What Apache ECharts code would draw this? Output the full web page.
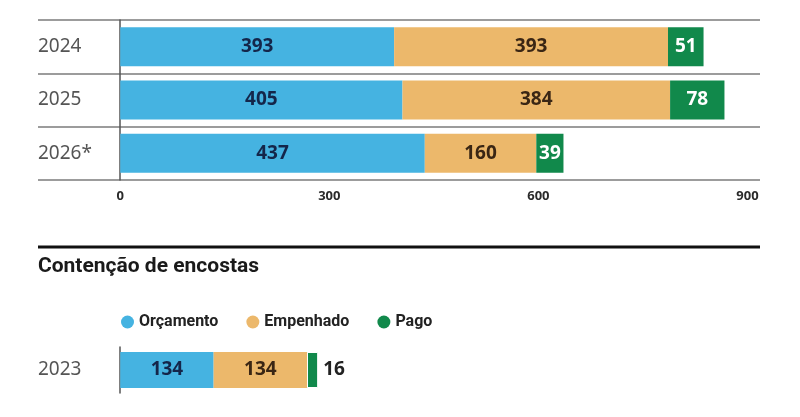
<!DOCTYPE html>
<html lang="pt">
<head>
    <meta charset="UTF-8"/>
    <title>Contenção de encostas</title>
    <script src="https://cdn.jsdelivr.net/npm/echarts@6/dist/echarts.min.js"></script>
    <style>
        html, body { margin: 0; padding: 0; background: #fff; }
    </style>
</head>
<body>
<div id="main" style="width: 800px;height:417px;"></div>
<script type="text/javascript">
    // dados do gráfico de cima (continuação)
    var anos = ['2024', '2025', '2026*'];
    var orcamento = [393, 405, 437];
    var empenhado = [393, 384, 160];
    var pago = [51, 78, 39];

    // contenção de encostas
    var anosEncostas = ['2023'];
    var orcEncostas = [134];
    var empEncostas = [134];
    var pagoEncostas = [16];

    var ticks = [0, 300, 600, 900];

    var AZUL = '#45b3e1';
    var LARANJA = '#ecb86b';
    var VERDE = '#11894b';
    var FONTE = '"Open Sans", sans-serif';

    var myChart = echarts.init(document.getElementById('main'));

    function eixoX(idx, mostrar) {
        return {
            type: 'value',
            gridIndex: idx,
            min: -118,
            max: 918,
            axisLine: { show: false },
            axisTick: { show: false },
            splitLine: { show: false },
            axisLabel: {
                show: mostrar,
                customValues: ticks,
                margin: 10,
                color: '#2a2a2a',
                fontFamily: FONTE,
                fontWeight: 'bold',
                fontSize: 13
            }
        };
    }

    // rótulos do eixo y ficam na borda esquerda do grid (x=38)
    function eixoY(idx, dados, linhas, dy) {
        return {
            type: 'category',
            gridIndex: idx,
            data: dados,
            inverse: true,
            axisTick: { show: false },
            axisLine: { onZero: true, lineStyle: { color: '#555', width: 1.5 } },
            splitLine: { show: linhas, lineStyle: { color: '#9c9c9c', width: 2 } },
            axisLabel: {
                margin: 0,
                align: 'left',
                padding: [0, 0, dy, 0],
                color: '#555',
                fontFamily: '"Noto Sans", sans-serif',
                fontSize: 19
            }
        };
    }

    function rotulo(pos, cor) {
        return {
            show: true,
            position: pos,
            color: cor,
            fontFamily: FONTE,
            fontWeight: 'bold',
            fontSize: 19
        };
    }

    var option = {
        animation: false,
        title: {
            text: 'Contenção de encostas',
            left: 38,
            top: 256,
            padding: 0,
            textStyle: {
                fontFamily: 'Roboto, sans-serif',
                fontWeight: 'bold',
                fontSize: 21,
                color: '#1a1a1a'
            }
        },
        legend: {
            left: 121,
            top: 314,
            padding: 0,
            icon: 'circle',
            itemWidth: 13,
            itemHeight: 13,
            itemGap: 28,
            data: ['Orçamento', 'Empenhado', 'Pago'],
            textStyle: {
                fontFamily: 'Roboto, sans-serif',
                fontWeight: 'bold',
                fontSize: 16,
                color: '#222'
            }
        },
        graphic: [{
            type: 'line',
            shape: { x1: 38, y1: 247, x2: 760, y2: 247 },
            style: { stroke: '#111', lineWidth: 3 }
        }],
        grid: [
            { left: 38, right: 40, top: 20, height: 160, outerBoundsMode: 'none', containLabel: false },
            { left: 38, right: 40, top: 347, height: 46, outerBoundsMode: 'none', containLabel: false }
        ],
        xAxis: [eixoX(0, true), eixoX(1, false)],
        yAxis: [eixoY(0, anos, true, 16), eixoY(1, anosEncostas, false, 26)],
        series: [
            { name: 'Orçamento', type: 'bar', stack: 'a', xAxisIndex: 0, yAxisIndex: 0, barWidth: 39,
              itemStyle: { color: AZUL }, label: rotulo('inside', '#14264a'), data: orcamento },
            { name: 'Empenhado', type: 'bar', stack: 'a', xAxisIndex: 0, yAxisIndex: 0, barWidth: 39,
              itemStyle: { color: LARANJA }, label: rotulo('inside', '#3a2614'), data: empenhado },
            { name: 'Pago', type: 'bar', stack: 'a', xAxisIndex: 0, yAxisIndex: 0, barWidth: 39,
              itemStyle: { color: VERDE }, label: rotulo('inside', '#fff'), data: pago },
            { name: 'Orçamento', type: 'bar', stack: 'b', xAxisIndex: 1, yAxisIndex: 1, barWidth: 36,
              itemStyle: { color: AZUL }, label: rotulo('inside', '#14264a'), data: orcEncostas },
            { name: 'Empenhado', type: 'bar', stack: 'b', xAxisIndex: 1, yAxisIndex: 1, barWidth: 36,
              itemStyle: { color: LARANJA }, label: rotulo('inside', '#3a2614'), data: empEncostas },
            { name: 'Pago', type: 'bar', stack: 'b', xAxisIndex: 1, yAxisIndex: 1, barWidth: 36,
              itemStyle: { color: VERDE, borderColor: '#fff', borderWidth: 1 },
              label: rotulo('right', '#222'), data: pagoEncostas }
        ]
    };

    myChart.setOption(option);
</script>
</body>
</html>
